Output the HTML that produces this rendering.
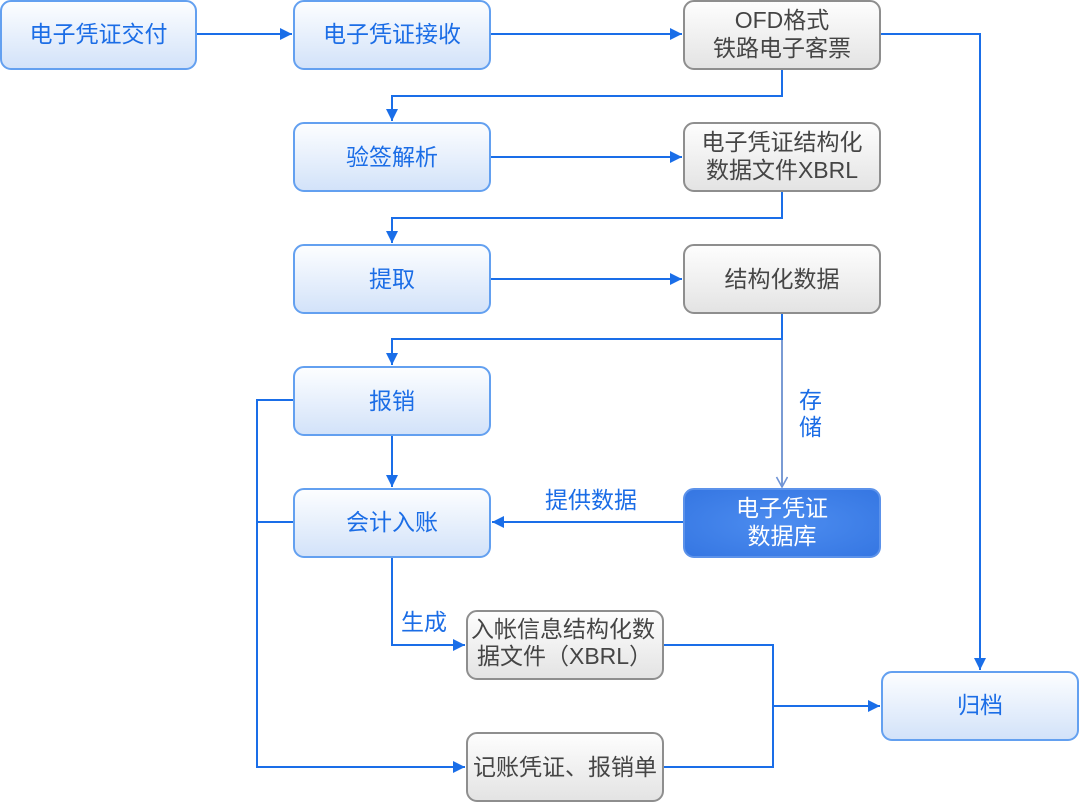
<!DOCTYPE html>
<html>
<head>
<meta charset="utf-8">
<style>
html,body{margin:0;padding:0;background:#fff;}
svg{display:block;}
text{font-family:"Liberation Sans","Noto Sans CJK SC",sans-serif;font-size:23px;}
.bt{fill:#1b6de6;}
.gt{fill:#454545;}
.wt{fill:#fff;}
</style>
</head>
<body>
<svg width="1080" height="802" viewBox="0 0 1080 802" xmlns="http://www.w3.org/2000/svg">
<defs>
<linearGradient id="gb" x1="0" y1="0" x2="0" y2="1">
<stop offset="0" stop-color="#fdfeff"/>
<stop offset="1" stop-color="#d2e2f9"/>
</linearGradient>
<linearGradient id="gg" x1="0" y1="0" x2="0" y2="1">
<stop offset="0" stop-color="#fefefe"/>
<stop offset="1" stop-color="#e3e3e3"/>
</linearGradient>
<radialGradient id="gd" cx="0.5" cy="0.5" r="0.7">
<stop offset="0" stop-color="#4d8df0"/>
<stop offset="1" stop-color="#3576e2"/>
</radialGradient>
<marker id="a" markerWidth="14" markerHeight="14" refX="12" refY="6" orient="auto" markerUnits="userSpaceOnUse">
<path d="M0,0 L12,6 L0,12 Z" fill="#1a6ee8"/>
</marker>
<marker id="ao" markerWidth="14" markerHeight="14" refX="11" refY="6" orient="auto" markerUnits="userSpaceOnUse">
<path d="M1,0.5 L11,6 L1,11.5" fill="none" stroke="#6e93d6" stroke-width="1.6"/>
</marker>
</defs>

<g fill="none" stroke="#1a6ee8" stroke-width="2">
<path d="M197,34 H292" marker-end="url(#a)"/>
<path d="M490,34 H682" marker-end="url(#a)"/>
<path d="M880,34 H980 V670" marker-end="url(#a)"/>
<path d="M782,69 V96 H392 V121" marker-end="url(#a)"/>
<path d="M490,157 H682" marker-end="url(#a)"/>
<path d="M782,191 V218 H392 V243" marker-end="url(#a)"/>
<path d="M490,279 H682" marker-end="url(#a)"/>
<path d="M782,313 V339 H392 V365" marker-end="url(#a)"/>
<path d="M392,435 V487" marker-end="url(#a)"/>
<path d="M294,400 H257 V767 H465" marker-end="url(#a)"/>
<path d="M294,522 H257"/>
<path d="M683,522 H492" marker-end="url(#a)"/>
<path d="M392,557 V645 H465" marker-end="url(#a)"/>
<path d="M663,645 H773 V767 H663"/>
<path d="M773,706 H880" marker-end="url(#a)"/>
</g>
<path d="M782,340 V487" fill="none" stroke="#7a9bd4" stroke-width="2" marker-end="url(#ao)"/>

<g stroke="#63a0f0" stroke-width="2" fill="url(#gb)">
<rect x="1" y="1" width="195" height="68" rx="10"/>
<rect x="294" y="1" width="196" height="68" rx="10"/>
<rect x="294" y="123" width="196" height="68" rx="10"/>
<rect x="294" y="245" width="196" height="68" rx="10"/>
<rect x="294" y="367" width="196" height="68" rx="10"/>
<rect x="294" y="489" width="196" height="68" rx="10"/>
<rect x="882" y="672" width="196" height="68" rx="10"/>
</g>
<g stroke="#8e8e8e" stroke-width="2" fill="url(#gg)">
<rect x="684" y="1" width="196" height="68" rx="10"/>
<rect x="684" y="123" width="196" height="68" rx="10"/>
<rect x="684" y="245" width="196" height="68" rx="10"/>
<rect x="467" y="611" width="196" height="68" rx="10"/>
<rect x="467" y="733" width="196" height="68" rx="10"/>
</g>
<rect x="684" y="489" width="196" height="68" rx="10" fill="url(#gd)" stroke="#5c92ea" stroke-width="2"/>

<g text-anchor="middle">
<text class="bt" x="98.5" y="42">电子凭证交付</text>
<text class="bt" x="392" y="42">电子凭证接收</text>
<text class="bt" x="392" y="165">验签解析</text>
<text class="bt" x="392" y="287">提取</text>
<text class="bt" x="392" y="409">报销</text>
<text class="bt" x="392" y="530">会计入账</text>
<text class="bt" x="980" y="713">归档</text>
<text class="gt" x="782" y="28">OFD格式</text>
<text class="gt" x="782" y="56">铁路电子客票</text>
<text class="gt" x="782" y="150">电子凭证结构化</text>
<text class="gt" x="782" y="178">数据文件XBRL</text>
<text class="gt" x="782" y="287">结构化数据</text>
<text class="gt" x="565" y="775">记账凭证、报销单</text>
<text class="wt" x="782" y="516">电子凭证</text>
<text class="wt" x="782" y="544">数据库</text>
</g>
<text class="gt" x="471" y="637">入帐信息结构化数</text>
<text class="gt" x="477" y="664">据文件（XBRL）</text>
<text class="bt" x="545" y="508">提供数据</text>
<text class="bt" x="401" y="630">生成</text>
<text class="bt" x="799" y="408">存</text>
<text class="bt" x="799" y="435">储</text>
</svg>
</body>
</html>
